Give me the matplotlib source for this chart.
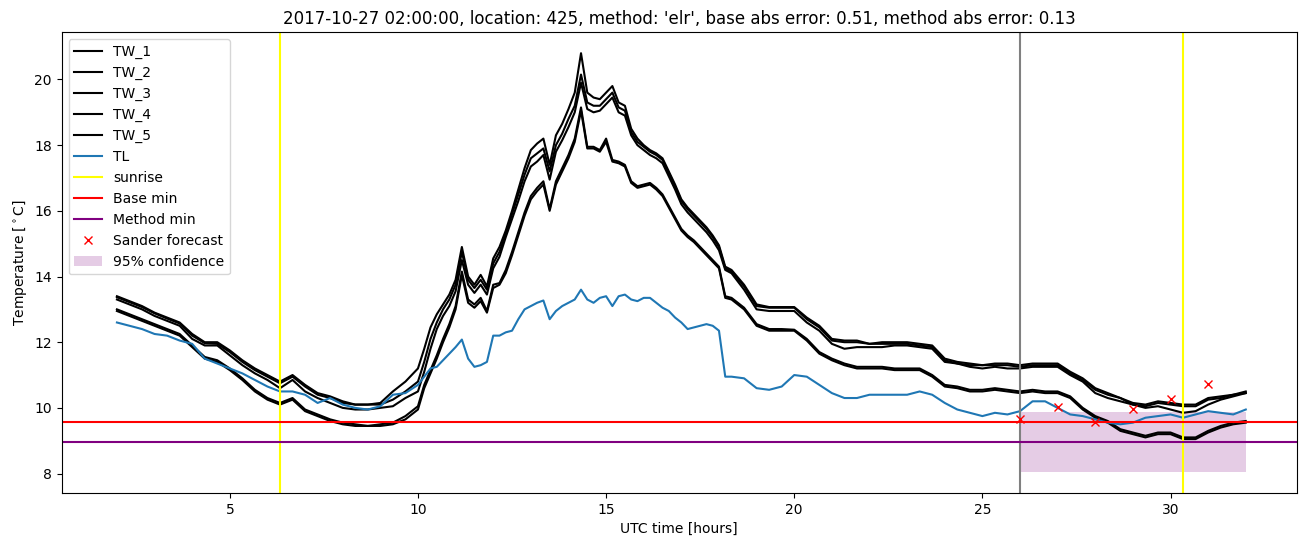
import matplotlib
matplotlib.use('Agg')
import matplotlib.pyplot as plt
import numpy as np

# sample times (hours, UTC) - finer around the daytime peak
hours = np.concatenate([np.linspace(2, 9 + 2/3, 24),
                        np.linspace(10, 18 + 1/3, 51),
                        np.linspace(18 + 2/3, 32, 41)])

tw_1 = [13.4, 13.25, 13.1, 12.9, 12.75, 12.6, 12.25, 12.0, 12.0, 11.75, 11.45, 11.2,
        11.0, 10.8, 11.0, 10.7, 10.45, 10.35, 10.2, 10.1, 10.1, 10.15, 10.5, 10.8,
        11.2, 11.8, 12.45, 12.85, 13.15, 13.45, 13.9, 14.9, 14.0, 13.75, 14.05, 13.7,
        14.55, 14.9, 15.4, 16.0, 16.65, 17.3, 17.85, 18.05, 18.2, 17.4, 18.3, 18.65,
        19.1, 19.6, 20.8, 19.6, 19.45, 19.4, 19.6, 19.8, 19.3, 19.2, 18.5, 18.2,
        18.0, 17.85, 17.75, 17.6, 17.2, 16.8, 16.35, 16.1, 15.9, 15.7, 15.5, 15.25,
        14.95, 14.3, 14.2,
        13.75, 13.15, 13.07, 13.07, 13.07, 12.75, 12.5, 12.1, 12.05, 12.05, 11.95, 12.0,
        12.0, 12.0, 11.95, 11.9, 11.5, 11.4, 11.35, 11.3, 11.35, 11.35, 11.3, 11.35,
        11.35, 11.35, 11.1, 10.9, 10.6, 10.45, 10.3, 10.15, 10.1, 10.2, 10.15, 10.1,
        10.1, 10.3, 10.35, 10.4, 10.5]
tw_2 = [13.37, 13.22, 13.07, 12.88, 12.72, 12.57, 12.2, 11.97, 11.95, 11.7, 11.4, 11.15,
        10.95, 10.75, 10.95, 10.65, 10.4, 10.3, 10.15, 10.1, 10.1, 10.1, 10.25, 10.5,
        10.8, 11.4, 12.1, 12.6, 13.0, 13.3, 13.75, 14.75, 13.9, 13.65, 13.9, 13.6,
        14.4, 14.75, 15.3, 15.9, 16.5, 17.1, 17.6, 17.75, 17.9, 17.2, 18.0, 18.35,
        18.8, 19.2, 20.15, 19.3, 19.2, 19.2, 19.4, 19.6, 19.15, 19.05, 18.4, 18.1,
        17.95, 17.8, 17.7, 17.55, 17.15, 16.75, 16.3, 16.05, 15.85, 15.65, 15.45, 15.2,
        14.9, 14.25, 14.15,
        13.7, 13.1, 13.05, 13.05, 13.05, 12.7, 12.45, 12.05, 12.0, 12.0, 11.95, 11.95,
        11.95, 11.95, 11.9, 11.85, 11.45, 11.35, 11.3, 11.3, 11.3, 11.3, 11.25, 11.3,
        11.3, 11.3, 11.05, 10.85, 10.55, 10.4, 10.3, 10.1, 10.05, 10.15, 10.1, 10.05,
        10.05, 10.25, 10.3, 10.4, 10.45]
tw_3 = [13.3, 13.15, 13.0, 12.8, 12.65, 12.5, 12.1, 11.9, 11.9, 11.6, 11.3, 11.05,
        10.85, 10.6, 10.85, 10.5, 10.3, 10.15, 10.0, 9.95, 9.95, 10.0, 10.05, 10.3,
        10.5, 11.1, 11.8, 12.4, 12.8, 13.1, 13.55, 14.5, 13.75, 13.5, 13.75, 13.45,
        14.25, 14.6, 15.2, 15.75, 16.3, 16.9, 17.35, 17.5, 17.7, 16.95, 17.8, 18.15,
        18.55, 19.0, 19.9, 19.1, 19.0, 19.05, 19.25, 19.45, 19.0, 18.9, 18.3, 18.0,
        17.85, 17.7, 17.6, 17.45, 17.05, 16.65, 16.2, 15.95, 15.75, 15.55, 15.35, 15.1,
        14.8, 14.2, 14.1,
        13.6, 13.0, 12.95, 12.95, 12.95, 12.6, 12.35, 11.95, 11.8, 11.85, 11.85, 11.85,
        11.9, 11.9, 11.85, 11.8, 11.4, 11.35, 11.25, 11.2, 11.25, 11.2, 11.2, 11.25,
        11.25, 11.25, 11.0, 10.8, 10.45, 10.3, 10.2, 10.1, 10.0, 10.05, 9.95, 9.85,
        9.9, 10.1, 10.25, 10.35, 10.45]
tw_4 = [13.0, 12.85, 12.7, 12.55, 12.4, 12.25, 11.9, 11.55, 11.45, 11.2, 10.9, 10.55,
        10.3, 10.15, 10.3, 9.95, 9.8, 9.65, 9.55, 9.5, 9.45, 9.5, 9.55, 9.75,
        10.05, 10.7, 11.15, 11.6, 12.1, 12.55, 13.1, 14.15, 13.3, 13.15, 13.35, 12.95,
        13.75, 13.8, 14.2, 14.75, 15.35, 15.95, 16.45, 16.7, 16.9, 16.05, 16.9, 17.3,
        17.7, 18.2, 19.15, 17.95, 17.95, 17.85, 18.2, 17.55, 17.5, 17.4, 16.9, 16.75,
        16.8, 16.85, 16.7, 16.5, 16.15, 15.8, 15.45, 15.25, 15.1, 14.9, 14.7, 14.5,
        14.3, 13.4, 13.35,
        13.05, 12.55, 12.4, 12.4, 12.38, 12.1, 11.7, 11.5, 11.35, 11.25, 11.25, 11.25,
        11.2, 11.2, 11.2, 11.0, 10.7, 10.65, 10.55, 10.55, 10.6, 10.55, 10.5, 10.55,
        10.5, 10.5, 10.35, 10.0, 9.75, 9.6, 9.35, 9.25, 9.15, 9.25, 9.25, 9.1,
        9.1, 9.3, 9.45, 9.55, 9.6]
tw_5 = [12.95, 12.8, 12.65, 12.5, 12.35, 12.2, 11.85, 11.5, 11.4, 11.15, 10.85, 10.5,
        10.25, 10.1, 10.25, 9.9, 9.75, 9.6, 9.5, 9.45, 9.45, 9.45, 9.5, 9.65,
        9.95, 10.6, 11.05, 11.5, 12.0, 12.45, 13.0, 14.05, 13.2, 13.05, 13.25, 12.9,
        13.65, 13.75, 14.1, 14.65, 15.25, 15.85, 16.35, 16.6, 16.8, 16.0, 16.8, 17.2,
        17.6, 18.1, 19.05, 17.9, 17.9, 17.8, 18.1, 17.5, 17.45, 17.35, 16.85, 16.7,
        16.75, 16.8, 16.65, 16.45, 16.1, 15.75, 15.4, 15.2, 15.05, 14.85, 14.65, 14.45,
        14.25, 13.35, 13.3,
        13.0, 12.5, 12.35, 12.35, 12.35, 12.05, 11.65, 11.45, 11.3, 11.2, 11.2, 11.2,
        11.15, 11.15, 11.15, 10.95, 10.65, 10.6, 10.5, 10.5, 10.55, 10.5, 10.45, 10.5,
        10.45, 10.45, 10.3, 9.95, 9.7, 9.55, 9.3, 9.2, 9.1, 9.2, 9.2, 9.05,
        9.05, 9.25, 9.4, 9.5, 9.55]
tl = [12.6, 12.5, 12.4, 12.25, 12.2, 12.05, 11.95, 11.5, 11.35, 11.2, 11.05, 10.85,
      10.65, 10.5, 10.5, 10.4, 10.15, 10.3, 10.1, 10.0, 9.95, 10.05, 10.4, 10.45,
      10.7, 10.95, 11.2, 11.25, 11.45, 11.65, 11.85, 12.08, 11.5, 11.25, 11.3, 11.4,
      12.2, 12.2, 12.3, 12.35, 12.7, 13.0, 13.1, 13.2, 13.27, 12.7, 12.95, 13.1,
      13.2, 13.3, 13.6, 13.3, 13.2, 13.35, 13.4, 13.1, 13.4, 13.45, 13.3, 13.25,
      13.35, 13.35, 13.2, 13.05, 12.95, 12.75, 12.6, 12.4, 12.45, 12.5, 12.55, 12.5,
      12.35, 10.95, 10.95,
      10.9, 10.6, 10.55, 10.65, 11.0, 10.95, 10.7, 10.45, 10.3, 10.3, 10.4, 10.4,
      10.4, 10.4, 10.5, 10.4, 10.15, 9.95, 9.85, 9.75, 9.85, 9.8, 9.9, 10.2,
      10.2, 10.0, 9.8, 9.75, 9.65, 9.55, 9.5, 9.55, 9.7, 9.75, 9.8, 9.7,
      9.8, 9.9, 9.85, 9.8, 9.95]

sunrise = [6.33, 30.32]
now_hour = 26
base_min = 9.58
method_min = 8.97
fc_hours = [26, 27, 28, 29, 30, 31]
fc_values = [9.67, 10.03, 9.58, 9.97, 10.27, 10.73]
conf_hours = [26, 32]
conf_low = [8.05, 8.05]
conf_high = [9.87, 9.87]

fig, ax = plt.subplots(figsize=(13.11, 5.47), dpi=100)
for name, tw in zip(['TW_1', 'TW_2', 'TW_3', 'TW_4', 'TW_5'], [tw_1, tw_2, tw_3, tw_4, tw_5]):
    ax.plot(hours, tw, color='black', label=name)
ax.plot(hours, tl, color='tab:blue', label='TL')
for i, s in enumerate(sunrise):
    ax.axvline(s, color='yellow', label='sunrise' if i == 0 else None)
ax.axvline(now_hour, color='grey')
ax.axhline(base_min, color='red', label='Base min')
ax.axhline(method_min, color='purple', label='Method min')
ax.plot(fc_hours, fc_values, 'x', color='red', label='Sander forecast')
ax.fill_between(conf_hours, conf_low, conf_high, color='purple', alpha=0.2,
                linewidth=0, label='95% confidence')

ax.set_title("2017-10-27 02:00:00, location: 425, method: 'elr', base abs error: 0.51, method abs error: 0.13")
ax.set_xlabel('UTC time [hours]')
ax.set_ylabel(r'Temperature [$^\circ$C]')
ax.set_xlim(0.53, 33.35)
ax.legend(loc='upper left')

plt.subplots_adjust(left=0.047, right=0.989, bottom=0.099, top=0.941)
plt.savefig('out.png')
